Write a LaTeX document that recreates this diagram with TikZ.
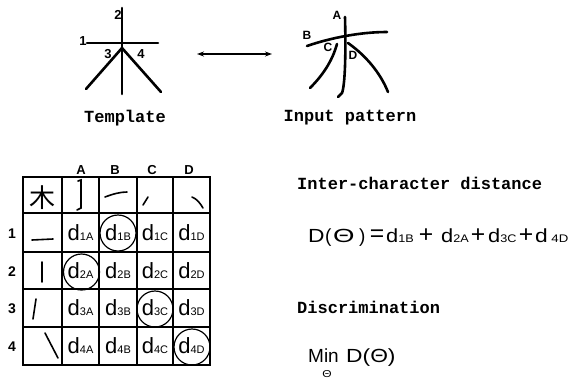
\documentclass[tikz,border=0pt]{standalone}
\usepackage{fontspec}
\setmainfont{Liberation Sans}
\newfontfamily\monofam{Liberation Mono}
\newfontfamily\cjk{Noto Sans CJK SC}
\usetikzlibrary{arrows.meta}
\newcommand\dsb[1]{d{\fontsize{11}{11}\selectfont #1}}
\newcommand\esb[1]{\scalebox{1.15}[1]{d{\fontsize{11}{11}\selectfont #1}}}
\newcommand\wide[1]{\scalebox{1.2}[1]{#1}}
\newcommand\bigop[1]{\scalebox{1.3}[1.25]{#1}}
\begin{document}
\begin{tikzpicture}[x=1pt,y=-1pt,
  pen/.style={line width=2.6pt,line cap=round},
  thinpen/.style={line width=1.6pt,line cap=round},
  grid/.style={line width=1.3pt},
  lbl/.style={inner sep=0pt,font=\bfseries\fontsize{12}{12}\selectfont},
  numlbl/.style={inner sep=0pt,font=\bfseries\fontsize{13}{13}\selectfont},
  caption/.style={inner sep=0pt,font=\monofam\bfseries\fontsize{17}{17}\selectfont},
  collbl/.style={inner sep=0pt,font=\bfseries\fontsize{13}{13}\selectfont},
  rowlbl/.style={inner sep=0pt,font=\bfseries\fontsize{14}{14}\selectfont},
  cell/.style={inner sep=0pt,font=\fontsize{22}{22}\selectfont},
  ring/.style={draw,circle,line width=1.2pt,minimum size=36pt,inner sep=0pt},
  eqp/.style={inner sep=0pt,anchor=base west,font=\fontsize{19}{19}\selectfont},
  opp/.style={inner sep=0pt,anchor=center,font=\fontsize{19}{19}\selectfont}]
\useasboundingbox (0,0) rectangle (581,384);
% ---------- template character
\draw[pen] (122,8) -- (122,94);
\draw[pen] (87,43) -- (158,43);
\draw[pen] (122,48) -- (86,89);
\draw[pen] (122,48) -- (161,92);
\node[numlbl] (t2) at (118,15) {2};
\node[numlbl] (t1) at (83,41) {1};
\node[numlbl] (t3) at (108,54) {3};
\node[numlbl] (t4) at (141,54) {4};
\node[caption] (tcap) at (125,118) {Template};
% ---------- input pattern
\draw[pen] (345,17) .. controls (346,55) and (345,85) .. (342,93) -- (338,97);
\draw[pen] (307,46) .. controls (330,38) and (360,32) .. (387,32);
\draw[pen] (337,44) .. controls (332,62) and (322,76) .. (310,88);
\draw[pen] (348,43) .. controls (365,55) and (380,72) .. (388,92);
\node[lbl] (pA) at (337,15) {A};
\node[lbl] (pB) at (307,35) {B};
\node[lbl] (pC) at (328,47) {C};
\node[lbl] (pD) at (353,55) {D};
\node[caption] (pcap) at (350,118) {Input pattern};
% ---------- arrow
\coordinate (al) at (197,54);
\coordinate (ar) at (272,54);
\draw[line width=1.5pt,{Stealth[length=7pt,width=5pt]}-{Stealth[length=7pt,width=5pt]}] (al) -- (ar);
% ---------- table
\draw[grid] (23,177) rectangle (210,365);
\foreach \x in {62,99,137,173} \draw[grid] (\x,177) -- (\x,365);
\foreach \y in {213,252,289,327} \draw[grid] (23,\y) -- (210,\y);
\node[collbl] (cA) at (81,170) {A};
\node[collbl] (cB) at (115,170) {B};
\node[collbl] (cC) at (152,170) {C};
\node[collbl] (cD) at (189,170) {D};
\node[rowlbl] (r1) at (12,234) {1};
\node[rowlbl] (r2) at (12,272) {2};
\node[rowlbl] (r3) at (12,309) {3};
\node[rowlbl] (r4) at (12,347) {4};
\node[inner sep=0pt,font=\cjk\fontsize{26}{26}\selectfont] (hk) at (42,198) {木};
% header strokes
\draw[thinpen] (78,181) -- (81,180) -- (81,208) -- (77,210);
\draw[thinpen] (105,197) .. controls (113,194) and (120,192) .. (127,192);
\draw[thinpen] (148,197) -- (143,205);
\draw[thinpen] (192,197) .. controls (197,199) and (200,203) .. (203,208);
% row strokes
\draw[thinpen] (32,240) -- (53,239);
\draw[thinpen] (42,262) -- (42,282);
\draw[thinpen] (36,299) -- (33,319);
\draw[thinpen] (45,333) -- (58,358);
% cells
\node[cell] (c1A) at (80.5,233) {\dsb{1A}};
\node[cell] (c1B) at (118,233) {\dsb{1B}};
\node[cell] (c1C) at (155,233) {\dsb{1C}};
\node[cell] (c1D) at (191.5,233) {\dsb{1D}};
\node[cell] (c2A) at (80.5,271) {\dsb{2A}};
\node[cell] (c2B) at (118,271) {\dsb{2B}};
\node[cell] (c2C) at (155,271) {\dsb{2C}};
\node[cell] (c2D) at (191.5,271) {\dsb{2D}};
\node[cell] (c3A) at (80.5,308) {\dsb{3A}};
\node[cell] (c3B) at (118,308) {\dsb{3B}};
\node[cell] (c3C) at (155,308) {\dsb{3C}};
\node[cell] (c3D) at (191.5,308) {\dsb{3D}};
\node[cell] (c4A) at (80.5,346) {\dsb{4A}};
\node[cell] (c4B) at (118,346) {\dsb{4B}};
\node[cell] (c4C) at (155,346) {\dsb{4C}};
\node[cell] (c4D) at (191.5,346) {\dsb{4D}};
\node[ring] (o1) at (118,233) {};
\node[ring] (o2) at (81.5,272) {};
\node[ring] (o3) at (155,309) {};
\node[ring] (o4) at (192,347) {};
% ---------- right texts
\node[caption,anchor=west] (h1) at (297,183) {Inter-character distance};
\node[eqp] (eD) at (308,242) {\wide{D}};
\node[eqp] (eP1) at (325,242) {(};
\node[eqp] (eT) at (333,242) {\scalebox{1.45}[1]{Θ}};
\node[eqp] (eP2) at (359,242) {)};
\node[opp] (eEq) at (377,236) {\bigop{=}};
\node[eqp] (e1) at (386,242) {\esb{1B}};
\node[opp] (ep1) at (426,236) {\bigop{+}};
\node[eqp] (e2) at (441,242) {\esb{2A}};
\node[opp] (ep2) at (478,236) {\bigop{+}};
\node[eqp] (e3) at (488,242) {\esb{3C}};
\node[opp] (ep3) at (526,236) {\bigop{+}};
\node[eqp] (e4) at (535,242) {\wide{d\hspace{3pt}{\fontsize{11}{11}\selectfont 4D}}};
\node[caption,anchor=west] (h2) at (297,307) {Discrimination};
\node[eqp] (mMin) at (308,362) {Min};
\node[eqp] (mD) at (346,362) {\wide{D(Θ)}};
\node[inner sep=0pt,font=\fontsize{10}{10}\selectfont] (mT) at (327,374) {\wide{Θ}};
\end{tikzpicture}
\end{document}
